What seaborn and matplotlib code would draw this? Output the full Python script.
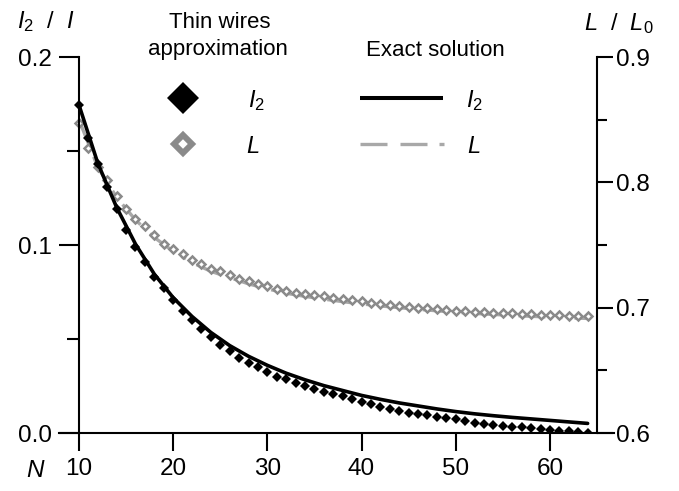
import matplotlib
matplotlib.use("Agg")
import matplotlib.pyplot as plt
from matplotlib.lines import Line2D
import pandas as pd
import seaborn as sns

# ---------------- data ----------------
N_thin = list(range(10, 65))
i2_thin = [0.1745, 0.157, 0.143, 0.131, 0.119, 0.108, 0.099, 0.091, 0.083, 0.077,
           0.0705, 0.065, 0.060, 0.0555, 0.051, 0.047, 0.0435, 0.040, 0.0375, 0.035,
           0.0325, 0.030, 0.0285, 0.0265, 0.025, 0.0235,
           0.022, 0.021, 0.0197, 0.0181, 0.0166, 0.0154, 0.014, 0.0128, 0.0119, 0.0108,
           0.0101, 0.0094, 0.0087, 0.008, 0.0073,
           0.0062, 0.0055, 0.0049, 0.0043, 0.0038, 0.0034, 0.0030, 0.0025, 0.0020,
           0.0016, 0.0012, 0.0008, 0.0004, 0.0]
L_thin = [0.847, 0.827, 0.812, 0.802, 0.789, 0.779, 0.771, 0.765, 0.758, 0.751,
          0.747, 0.743, 0.738, 0.735, 0.731, 0.729, 0.726, 0.723, 0.721, 0.719,
          0.717, 0.715, 0.7135, 0.712, 0.711, 0.710, 0.709,
          0.7079, 0.7069, 0.7059, 0.7050, 0.7041, 0.7032, 0.7024, 0.7016, 0.7008,
          0.7001, 0.6994, 0.6988, 0.6982, 0.6976,
          0.6972, 0.6968, 0.6964, 0.6960, 0.6957, 0.6954, 0.6951, 0.6948, 0.6945,
          0.6942, 0.6939, 0.6936, 0.6933, 0.6930]

N_exact = list(range(10, 65, 2))
i2_exact = [0.1745, 0.1435, 0.1200, 0.1005, 0.0845, 0.0720, 0.0620, 0.0535, 0.0465,
            0.0408, 0.0360, 0.0318, 0.0283, 0.0252, 0.0226, 0.0200, 0.0179, 0.0160,
            0.0144, 0.0128, 0.0114, 0.0102, 0.0092, 0.0083, 0.0075, 0.0067, 0.0059,
            0.0051]
L_exact = [0.850, 0.812, 0.788, 0.770, 0.756, 0.745, 0.736, 0.729, 0.724, 0.719,
           0.715, 0.7115, 0.709, 0.7068, 0.7048, 0.7030, 0.7014, 0.7000, 0.6987,
           0.6975, 0.6964, 0.6954, 0.6946, 0.6938, 0.6931, 0.6925, 0.6919, 0.6914]

x_ticks = [10, 20, 30, 40, 50, 60]
left_ticks = [0.0, 0.1, 0.2]
left_labels = ["0.0", "0.1", "0.2"]
right_ticks = [0.6, 0.7, 0.8, 0.9]
right_labels = ["0.6", "0.7", "0.8", "0.9"]

df_thin = pd.DataFrame({"N": N_thin, "I2": i2_thin, "L": L_thin})
df_exact = pd.DataFrame({"N": N_exact, "I2": i2_exact, "L": L_exact})

# ---------------- style ----------------
sns.set_style("white")
plt.rcParams["font.family"] = ["Liberation Sans", "DejaVu Sans"]
plt.rcParams["mathtext.fontset"] = "custom"
plt.rcParams["mathtext.rm"] = "Liberation Sans"
plt.rcParams["mathtext.it"] = "Liberation Sans:italic"
for k in ("text.color", "axes.labelcolor", "xtick.color", "ytick.color"):
    plt.rcParams[k] = "black"

GRAY = "#8a8a8a"
GRAY_LINE = "#a8a8a8"
W, H = 679, 491
fig = plt.figure(figsize=(W / 100, H / 100), dpi=100)


def fx(x):
    return x / W


def fy(y):
    return 1 - y / H


ax = fig.add_axes([fx(59), fy(433), (614 - 59) / W, (433 - 57) / H])
ax2 = ax.twinx()
ax.set_zorder(ax2.get_zorder() + 1)
ax.patch.set_visible(False)

dash_pat = (0, (8.1, 3.9, 8.1, 3.6, 1.5, 3.6))

# L on right axis
sns.lineplot(data=df_exact, x="N", y="L", ax=ax2, color=GRAY_LINE, lw=2.4,
             linestyle=dash_pat, legend=False)
sns.lineplot(data=df_thin, x="N", y="L", ax=ax2, color=GRAY, marker="D",
             linestyle="none", markersize=3.8, markerfacecolor="white",
             markeredgecolor=GRAY, markeredgewidth=1.8, legend=False)

# I2 on left axis
sns.lineplot(data=df_thin, x="N", y="I2", ax=ax, color="black", marker="D",
             linestyle="none", markersize=4.9, markerfacecolor="black",
             markeredgewidth=0, legend=False)
sns.lineplot(data=df_exact, x="N", y="I2", ax=ax, color="black", lw=2.6,
             legend=False)

ax.set_xlim(7.88, 66.8)
ax.set_ylim(0, 0.2)
ax2.set_ylim(0.6, 0.9)

for a in (ax, ax2):
    a.set_xlabel("")
    a.set_ylabel("")
    for s in a.spines.values():
        s.set_linewidth(1.5)
        s.set_color("black")

ax.spines["top"].set_visible(False)
ax.spines["right"].set_visible(False)
ax.spines["left"].set_position(("data", 10))
ax2.spines["top"].set_visible(False)
ax2.spines["left"].set_visible(False)
ax2.spines["bottom"].set_visible(False)
ax2.spines["right"].set_position(("data", 65))

ax.set_xticks(x_ticks)
ax.set_xticklabels([str(t) for t in x_ticks])
ax.set_yticks(left_ticks)
ax.set_yticklabels(left_labels)
ax.set_yticks([0.05, 0.15], minor=True)
ax2.set_yticks(right_ticks)
ax2.set_yticklabels(right_labels)
ax2.set_yticks([0.65, 0.75, 0.85], minor=True)

TS = 17.5
ax.tick_params(axis="x", which="major", direction="out", length=13, width=1.5,
               labelsize=TS, pad=5, bottom=True, top=False)
ax.tick_params(axis="y", which="major", direction="out", length=14.2, width=1.5,
               labelsize=TS, pad=5, left=True, right=False)
ax.tick_params(axis="y", which="minor", direction="out", length=8.6, width=1.5,
               left=True, right=False)
ax2.tick_params(axis="y", which="major", direction="out", length=11.5, width=1.5,
                labelsize=TS, pad=2, right=True, left=False)
ax2.tick_params(axis="y", which="minor", direction="out", length=7.2, width=1.5,
                right=True, left=False)
ax.grid(False)
ax2.grid(False)

# ---------------- axis titles ----------------
fs = 16
fig.text(fx(17), fy(28), r"$I_{\mathit{2}}$  /  $I$", fontsize=17, ha="left", va="baseline")
fig.text(fx(584), fy(30), r"$L$  /  $L_{\mathit{0}}$", fontsize=17, ha="left", va="baseline")
fig.text(fx(26), fy(477), "N", fontsize=TS, fontstyle="italic", ha="left", va="baseline")

# ---------------- legend ----------------
fig.text(fx(220), fy(28), "Thin wires", fontsize=fs, ha="center", va="baseline")
fig.text(fx(218), fy(55), "approximation", fontsize=fs, ha="center", va="baseline")
fig.text(fx(435), fy(56), "Exact solution", fontsize=fs, ha="center", va="baseline")

fig.add_artist(Line2D([fx(183)], [fy(98)], marker="D", ms=16.8, color="black",
                      mew=0, linestyle="none", transform=fig.transFigure))
fig.add_artist(Line2D([fx(183)], [fy(143.5)], marker="D", ms=9.3, mfc="white",
                      mec=GRAY, mew=4.3, linestyle="none", transform=fig.transFigure))
fig.add_artist(Line2D([fx(360), fx(443)], [fy(98.3), fy(98.3)], lw=2.9, color="black",
                      solid_capstyle="butt", transform=fig.transFigure))
fig.add_artist(Line2D([fx(360), fx(444)], [fy(144.3), fy(144.3)], lw=2.4, color=GRAY_LINE,
                      linestyle=dash_pat, dash_capstyle="butt", transform=fig.transFigure))

fig.text(fx(248), fy(106.7), r"$I_{\mathit{2}}$", fontsize=17, ha="left", va="baseline")
fig.text(fx(246), fy(153.3), r"$L$", fontsize=17, ha="left", va="baseline")
fig.text(fx(466), fy(106.7), r"$I_{\mathit{2}}$", fontsize=17, ha="left", va="baseline")
fig.text(fx(467), fy(153.3), r"$L$", fontsize=17, ha="left", va="baseline")

fig.savefig("out.png", dpi=100)
